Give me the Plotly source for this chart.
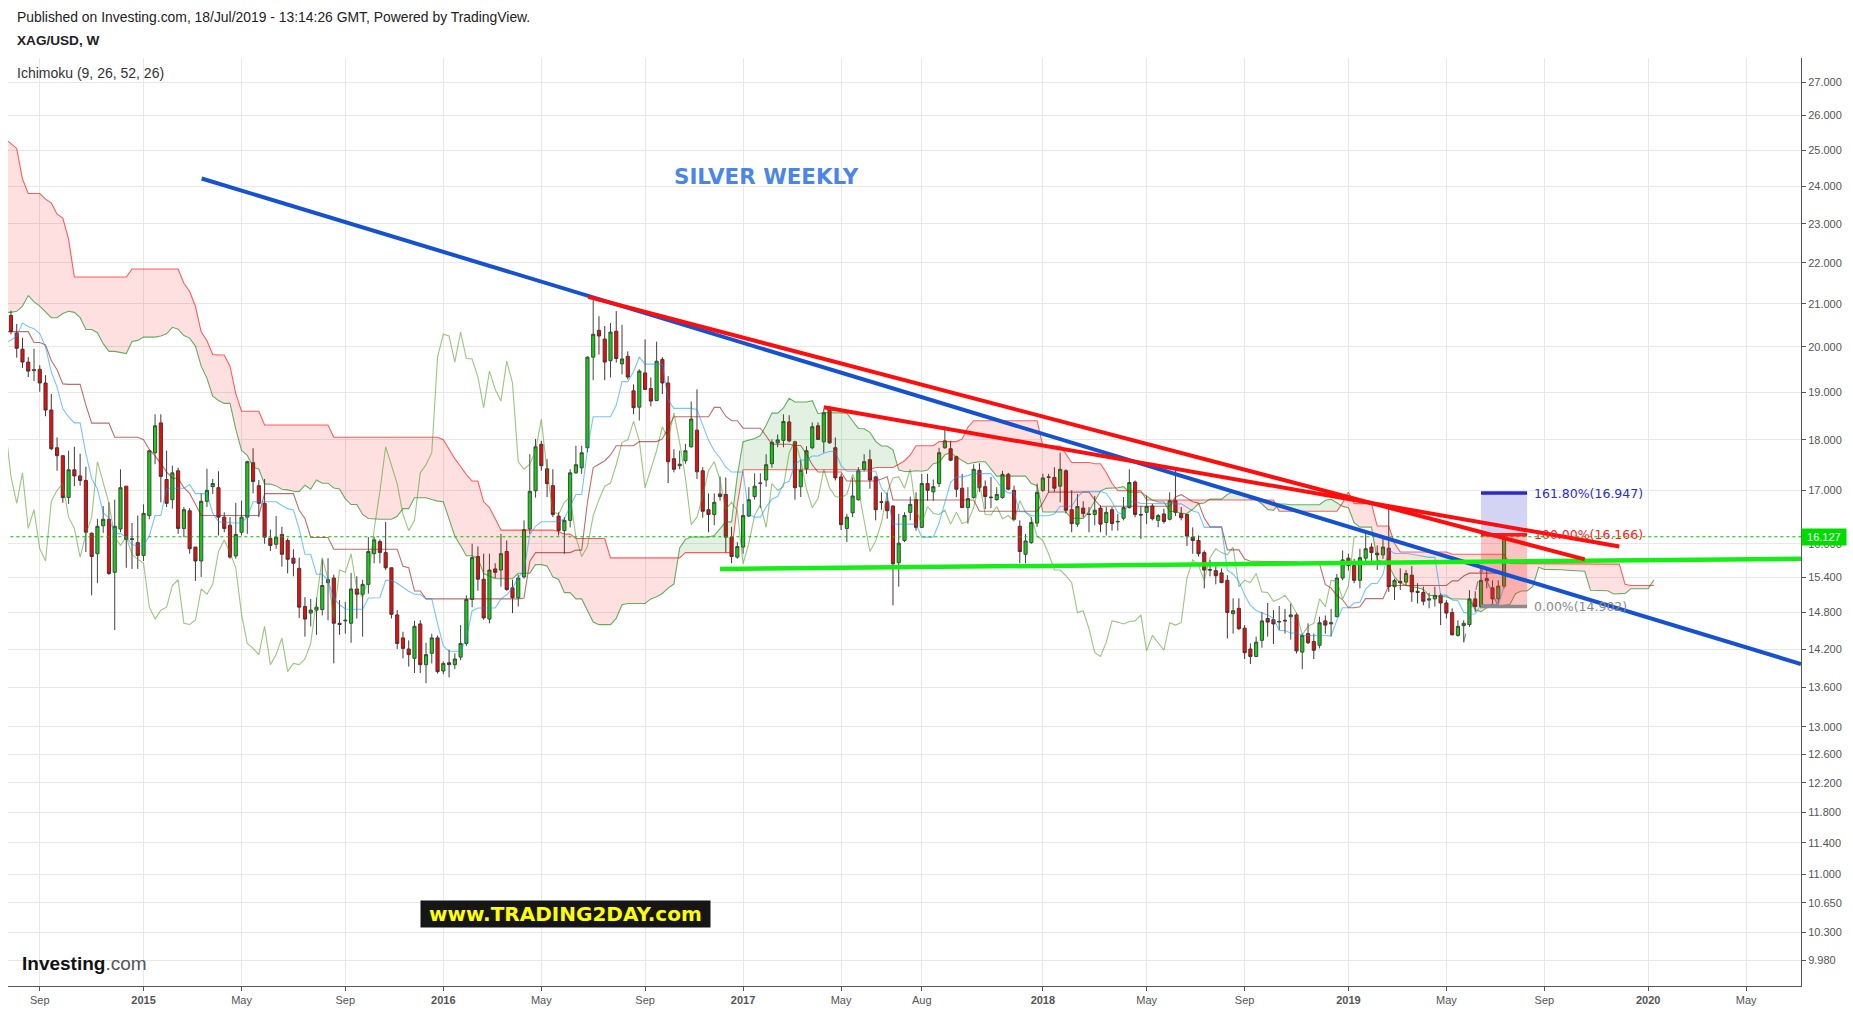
import numpy as np
import pandas as pd
import plotly.graph_objects as go

# ---------------- data (weekly XAG/USD, bars dated on Mondays) ----------------
first_bar = "2014-07-28"

open_ = [
20.73, 20.32, 19.95, 19.66, 19.47, 19.50, 19.20, 18.62, 17.84, 17.68,
16.86, 17.40, 17.28, 17.19, 16.19, 15.82, 16.33, 16.45, 15.49, 16.27,
17.08, 16.09, 16.02, 15.79, 16.52, 17.74, 18.35, 17.21, 16.82, 17.38,
16.28, 16.61, 15.94, 15.69, 16.79, 17.07, 17.05, 16.49, 16.34, 15.78,
16.21, 16.49, 17.54, 17.09, 16.75, 16.10, 15.99, 16.17, 16.06, 15.74,
15.56, 14.90, 14.79, 14.84, 14.85, 15.31, 15.39, 14.62, 14.66, 14.62,
15.20, 15.11, 15.28, 15.82, 16.04, 15.84, 15.57, 14.76, 14.38, 14.20,
14.05, 14.61, 13.95, 14.13, 14.38, 13.85, 13.98, 13.95, 14.07, 14.29,
15.02, 15.77, 15.37, 14.69, 15.55, 15.53, 15.86, 15.22, 15.05, 15.41,
16.27, 16.99, 17.91, 17.42, 17.09, 16.51, 16.24, 16.43, 17.34, 17.44,
17.84, 19.77, 20.38, 20.18, 19.69, 20.36, 19.62, 19.79, 19.03, 18.68,
19.42, 19.08, 18.82, 19.72, 19.20, 17.62, 17.48, 17.58, 17.86, 18.20,
17.38, 16.63, 16.54, 16.93, 16.92, 16.12, 15.76, 15.94, 16.51, 16.88,
17.13, 17.20, 17.52, 17.94, 17.99, 18.37, 17.96, 17.07, 17.42, 17.84,
18.29, 17.96, 18.67, 17.84, 17.26, 16.28, 16.57, 16.82, 17.41, 17.60,
17.26, 16.78, 16.78, 16.70, 15.66, 16.06, 16.58, 16.82, 16.30, 17.13,
16.97, 17.13, 17.84, 17.82, 17.66, 17.04, 16.67, 16.86, 17.39, 17.07,
16.87, 16.82, 16.86, 17.31, 17.00, 16.32, 15.81, 16.02, 16.38, 17.00,
17.25, 17.25, 17.08, 17.38, 16.63, 16.36, 16.66, 16.55, 16.54, 16.66,
16.39, 16.63, 16.40, 16.47, 16.67, 17.16, 16.54, 16.58, 16.70, 16.43,
16.55, 16.45, 16.80, 16.56, 16.54, 16.12, 16.06, 15.84, 15.54, 15.52,
15.48, 15.35, 14.78, 14.87, 14.54, 14.20, 14.08, 14.34, 14.70, 14.68,
14.64, 14.67, 14.73, 14.76, 14.15, 14.45, 14.32, 14.26, 14.66, 14.61,
14.73, 15.39, 15.74, 15.61, 15.35, 15.74, 15.94, 15.83, 15.80, 15.92,
15.24, 15.33, 15.32, 15.44, 15.16, 15.14, 15.01, 15.03, 15.09, 14.96,
14.80, 14.42, 14.58, 14.60, 15.03, 14.90, 15.38, 15.22, 15.03, 15.25,
]

high_ = [
20.84, 20.53, 20.21, 19.77, 19.96, 19.59, 19.37, 18.96, 18.05, 17.68,
17.78, 17.86, 17.72, 17.46, 16.21, 16.46, 16.70, 16.77, 16.82, 17.41,
17.08, 16.38, 16.52, 16.73, 17.78, 18.53, 18.53, 17.78, 17.48, 17.44,
16.68, 16.66, 15.94, 16.94, 17.42, 17.22, 17.37, 16.58, 16.49, 16.76,
16.80, 17.58, 17.83, 17.20, 17.22, 16.26, 16.51, 16.31, 16.10, 15.90,
15.75, 15.06, 15.03, 15.05, 15.72, 15.74, 15.45, 15.01, 14.98, 15.48,
15.42, 15.36, 16.12, 16.13, 16.08, 16.40, 15.57, 14.84, 14.48, 14.34,
14.66, 14.67, 14.30, 14.45, 14.42, 14.00, 14.19, 14.13, 14.59, 15.09,
16.00, 15.95, 15.82, 15.82, 15.65, 16.18, 16.06, 15.36, 15.45, 16.43,
17.71, 18.02, 17.98, 17.61, 17.41, 16.58, 16.49, 17.41, 17.88, 17.88,
19.79, 21.14, 20.71, 20.48, 20.55, 20.83, 20.51, 19.90, 19.17, 19.50,
20.17, 19.32, 20.12, 19.77, 19.35, 17.81, 17.78, 17.92, 18.80, 19.06,
17.45, 16.94, 16.94, 17.27, 17.25, 16.31, 16.03, 16.74, 17.06, 17.33,
17.33, 17.71, 18.01, 18.11, 18.53, 18.51, 17.98, 17.59, 17.87, 18.36,
18.36, 18.64, 18.71, 18.05, 17.32, 16.55, 17.25, 17.45, 17.71, 17.80,
17.28, 16.96, 16.95, 16.71, 16.55, 16.58, 16.88, 16.96, 17.32, 17.32,
17.21, 17.84, 18.28, 17.98, 17.68, 17.32, 17.06, 17.51, 17.53, 17.19,
17.26, 17.06, 17.38, 17.34, 17.09, 16.43, 16.18, 16.49, 17.13, 17.32,
17.32, 17.45, 17.74, 17.41, 17.00, 16.93, 16.79, 16.68, 16.89, 16.71,
16.68, 16.68, 16.55, 16.87, 17.41, 17.19, 16.70, 16.90, 16.74, 16.55,
16.65, 16.96, 17.39, 16.68, 16.55, 16.30, 16.15, 15.88, 15.71, 15.62,
15.56, 15.44, 15.04, 15.04, 14.59, 14.29, 14.40, 14.81, 14.96, 14.84,
14.91, 14.86, 14.95, 14.79, 14.45, 14.62, 14.45, 14.73, 14.75, 14.86,
15.46, 15.88, 15.82, 15.73, 15.91, 16.19, 16.01, 15.97, 16.12, 16.64,
15.38, 15.56, 15.53, 15.60, 15.30, 15.24, 15.13, 15.24, 15.13, 15.01,
14.87, 14.67, 14.67, 15.18, 15.16, 15.56, 15.56, 15.35, 15.35, 16.18,
]

low_ = [
20.29, 19.76, 19.53, 19.33, 19.24, 19.01, 18.49, 17.79, 17.38, 16.76,
16.74, 17.08, 17.09, 15.85, 15.09, 15.30, 16.20, 15.44, 14.51, 16.21,
15.57, 15.55, 15.55, 15.69, 16.45, 17.51, 16.77, 16.68, 16.65, 16.18,
16.12, 15.82, 15.34, 15.41, 16.68, 16.93, 16.15, 16.21, 15.73, 15.73,
16.15, 16.18, 16.94, 16.49, 16.00, 15.87, 15.91, 15.59, 15.47, 15.42,
14.71, 14.40, 14.57, 14.43, 14.75, 14.67, 13.97, 14.43, 14.45, 14.30,
14.70, 14.40, 15.12, 15.65, 15.65, 15.53, 14.70, 14.20, 14.05, 13.92,
13.82, 13.82, 13.66, 13.97, 13.81, 13.80, 13.75, 13.88, 14.02, 14.25,
14.89, 15.17, 14.68, 14.62, 15.39, 15.24, 15.17, 14.79, 14.90, 15.38,
16.18, 16.86, 17.38, 16.87, 16.49, 16.15, 15.82, 16.30, 17.32, 17.32,
17.75, 19.26, 19.83, 19.26, 19.32, 19.65, 19.39, 19.28, 18.53, 18.40,
19.06, 18.70, 18.81, 18.96, 17.14, 17.35, 17.41, 17.52, 17.84, 17.22,
16.48, 16.21, 16.34, 16.80, 15.84, 15.65, 15.73, 15.82, 16.49, 16.82,
16.66, 17.07, 17.44, 17.85, 17.85, 17.95, 16.82, 16.87, 17.32, 17.81,
18.00, 17.74, 17.92, 17.19, 16.25, 16.03, 16.49, 16.80, 17.37, 17.03,
16.43, 16.63, 16.46, 14.92, 15.24, 16.03, 16.43, 16.24, 16.29, 16.80,
16.80, 17.06, 17.82, 17.57, 16.87, 16.66, 16.37, 16.84, 16.97, 16.64,
16.66, 16.80, 16.84, 17.00, 16.43, 15.65, 15.65, 16.00, 16.31, 16.97,
16.96, 16.97, 16.77, 16.56, 16.21, 16.31, 16.49, 16.21, 16.34, 16.21,
16.15, 16.24, 16.24, 16.43, 16.65, 16.49, 16.09, 16.36, 16.43, 16.30,
16.37, 16.43, 16.51, 16.43, 15.96, 15.82, 15.77, 15.21, 15.42, 15.28,
15.30, 14.37, 14.45, 14.51, 14.04, 13.96, 14.07, 14.22, 14.40, 14.28,
14.51, 14.45, 14.35, 14.13, 13.88, 14.28, 14.04, 14.21, 14.45, 14.40,
14.72, 15.35, 15.52, 15.30, 15.21, 15.67, 15.65, 15.53, 15.73, 15.15,
15.01, 15.18, 15.26, 14.98, 14.95, 14.92, 14.87, 14.90, 14.59, 14.70,
14.42, 14.40, 14.31, 14.56, 14.81, 14.87, 15.21, 14.95, 14.95, 15.21,
]

close_ = [
20.35, 19.97, 19.66, 19.46, 19.49, 19.20, 18.62, 17.82, 17.68, 16.86,
17.40, 17.28, 17.19, 16.21, 15.77, 16.32, 16.45, 15.47, 16.32, 17.05,
16.08, 16.08, 15.79, 16.56, 17.78, 18.29, 17.27, 16.75, 17.34, 16.28,
16.63, 15.91, 15.69, 16.79, 17.00, 17.13, 16.49, 16.28, 15.76, 16.17,
16.49, 17.56, 17.17, 16.75, 16.12, 15.97, 16.12, 15.81, 15.72, 15.65,
14.89, 14.69, 14.84, 14.89, 15.26, 15.36, 14.62, 14.60, 14.67, 15.20,
15.11, 15.28, 15.86, 16.07, 15.84, 15.57, 14.77, 14.29, 14.21, 14.11,
14.57, 13.95, 14.11, 14.38, 13.84, 13.97, 13.95, 14.04, 14.29, 15.02,
15.75, 15.37, 14.71, 15.53, 15.49, 15.82, 15.19, 15.05, 15.39, 16.26,
16.98, 17.86, 17.48, 17.13, 16.54, 16.24, 16.43, 17.34, 17.50, 17.74,
19.77, 20.29, 20.25, 19.66, 20.34, 19.74, 19.73, 19.33, 18.67, 19.46,
19.06, 18.81, 19.68, 19.20, 17.56, 17.41, 17.51, 17.78, 18.43, 17.36,
16.60, 16.54, 16.77, 16.88, 16.12, 15.77, 15.95, 16.52, 16.82, 17.08,
17.14, 17.50, 17.95, 18.00, 18.38, 17.98, 17.05, 17.39, 17.78, 18.27,
18.01, 18.56, 17.94, 17.24, 16.35, 16.49, 16.89, 17.38, 17.56, 17.20,
16.63, 16.77, 16.61, 15.64, 16.01, 16.52, 16.73, 16.30, 17.13, 17.00,
17.07, 17.74, 17.98, 17.59, 17.02, 16.67, 16.84, 17.41, 17.05, 16.88,
16.86, 16.92, 17.31, 17.02, 16.45, 15.86, 16.05, 16.39, 16.96, 17.24,
17.26, 17.04, 17.41, 16.62, 16.37, 16.69, 16.56, 16.54, 16.62, 16.36,
16.58, 16.37, 16.41, 16.67, 17.15, 16.54, 16.53, 16.69, 16.46, 16.52,
16.41, 16.80, 16.58, 16.48, 16.14, 16.06, 15.82, 15.53, 15.53, 15.43,
15.31, 14.80, 14.83, 14.53, 14.14, 14.08, 14.31, 14.66, 14.64, 14.61,
14.65, 14.66, 14.76, 14.17, 14.42, 14.30, 14.18, 14.63, 14.59, 14.63,
15.39, 15.71, 15.61, 15.35, 15.75, 15.91, 15.84, 15.80, 15.94, 15.24,
15.35, 15.31, 15.47, 15.15, 15.14, 14.99, 15.03, 15.09, 14.96, 14.79,
14.43, 14.57, 14.62, 15.03, 14.90, 15.35, 15.34, 15.03, 15.25, 16.13,
]

# weekly highs / lows of the 78 weeks before the first visible bar (Ichimoku look-back)
pre_high = [
32.45, 32.20, 31.90, 30.20, 29.30, 29.00, 29.40, 29.10, 28.90, 28.30,
28.10, 27.00, 24.00, 24.40, 24.30, 23.70, 22.90, 22.70, 22.80, 22.20,
21.90, 20.10, 19.90, 19.60, 20.30, 20.40, 20.00, 20.20, 23.20, 24.50,
25.10, 24.40, 24.00, 23.40, 22.50, 22.40, 22.50, 22.30, 22.90, 22.40,
22.00, 21.90, 21.20, 20.40, 20.20, 20.20, 20.10, 19.90, 20.00, 20.40,
20.50, 20.40, 20.10, 20.20, 21.00, 22.00, 22.10, 21.60, 21.60, 21.30,
20.30, 20.20, 20.30, 20.20, 19.90, 19.90, 19.60, 19.80, 19.50, 19.50,
19.20, 19.80, 20.10, 21.20, 21.30, 21.60, 21.50, 21.10,
]
pre_low = [
31.10, 31.30, 29.90, 28.10, 28.00, 28.00, 28.50, 28.20, 27.90, 26.70,
27.10, 22.00, 22.60, 23.00, 23.30, 22.00, 21.60, 21.90, 21.80, 21.40,
19.60, 18.20, 18.60, 18.70, 19.20, 19.40, 19.00, 19.40, 19.90, 23.00,
23.20, 22.90, 21.90, 21.20, 21.30, 21.00, 21.30, 20.90, 21.70, 21.40,
21.20, 21.00, 19.90, 19.60, 18.80, 19.50, 19.00, 19.30, 19.40, 19.60,
19.80, 19.50, 18.90, 19.30, 19.90, 21.00, 21.00, 20.90, 20.90, 20.00,
19.50, 19.60, 19.60, 19.40, 19.40, 19.10, 19.10, 19.10, 19.20, 18.60,
18.70, 18.90, 19.50, 20.10, 20.70, 20.80, 20.80, 20.40,
]

ichimoku_params = [9, 26, 52, 26]

y_tick_values = [9.98, 10.3, 10.65, 11.0, 11.4, 11.8, 12.2, 12.6, 13.0, 13.6, 14.2,
                 14.8, 15.4, 16.0, 17.0, 18.0, 19.0, 20.0, 21.0, 22.0, 23.0, 24.0,
                 25.0, 26.0, 27.0]
x_tick_dates = ["2014-09-01", "2015-01-05", "2015-05-04", "2015-09-07", "2016-01-04",
                "2016-05-02", "2016-09-05", "2017-01-02", "2017-05-01", "2017-08-07",
                "2018-01-01", "2018-05-07", "2018-09-03", "2019-01-07", "2019-05-06",
                "2019-09-02", "2020-01-06", "2020-05-04"]
x_tick_labels = ["Sep", "2015", "May", "Sep", "2016", "May", "Sep", "2017", "May", "Aug",
                 "2018", "May", "Sep", "2019", "May", "Sep", "2020", "May"]

# drawings (trend lines)
blue_line_dates = ["2015-03-16 14:00", "2020-07-09 14:00"]
blue_line_prices = [24.21, 13.96]
red_long_dates = ["2016-06-28", "2019-10-21"]
red_long_prices = [21.17, 15.72]
red_short_dates = ["2017-04-10", "2019-12-02"]
red_short_prices = [18.68, 15.95]
green_line_dates = ["2016-12-05", "2020-07-09 14:00"]
green_line_prices = [15.55, 15.73]

# trend-based fib extension
fib_dates = ["2019-06-17", "2019-08-12"]
fib_levels = [14.902, 16.166, 16.947]
fib_texts = ["0.00%(14.902)", "100.00%(16.166)", "161.80%(16.947)"]
fib_pivot_dates = ["2019-05-27", "2019-06-17", "2019-07-08"]
fib_pivot_prices = [14.306, 15.57, 14.902]

last_price = 16.127

# ---------------- computations ----------------
t0 = pd.Timestamp(first_bar)
N = len(close_)
def bar_date(p):
    return t0 + pd.Timedelta(weeks=p)

bar_dates = [bar_date(k) for k in range(N)]

TEN, KIJ, SPB, DISP = ichimoku_params
H_all = pre_high + high_
L_all = pre_low + low_
NP = len(pre_high)

def mid(period, g):
    return (max(H_all[g - period + 1:g + 1]) + min(L_all[g - period + 1:g + 1])) / 2.0

tk_bars = list(range(-1, N))
tenkan = [mid(TEN, NP + j) for j in tk_bars]
kijun = [mid(KIJ, NP + j) for j in tk_bars]

span_bars = list(range(-1, N + DISP))
spanA = [(mid(TEN, NP + p - DISP) + mid(KIJ, NP + p - DISP)) / 2.0 for p in span_bars]
spanB = [mid(SPB, NP + p - DISP) for p in span_bars]

chikou_bars = list(range(DISP - 1, N))
chikou_x = [bar_date(j - DISP) for j in chikou_bars]
chikou_y = [close_[j] for j in chikou_bars]

# cloud polygons (split where span A and span B cross)
xn = np.array(span_bars, dtype=float)
la = np.log(np.array(spanA))
lb = np.log(np.array(spanB))
polys = []
s0 = 1 if la[0] >= lb[0] else -1
pa = [(xn[0], la[0])]
pb = [(xn[0], lb[0])]
for i in range(1, len(xn)):
    d1 = la[i] - lb[i]
    s = 1 if d1 > 0 else (-1 if d1 < 0 else s0)
    if s != s0:
        d0 = la[i - 1] - lb[i - 1]
        t = d0 / (d0 - d1)
        xc = xn[i - 1] + t * (xn[i] - xn[i - 1])
        yc = la[i - 1] + t * (la[i] - la[i - 1])
        pa.append((xc, yc)); pb.append((xc, yc))
        polys.append((s0, pa, pb))
        pa = [(xc, yc)]; pb = [(xc, yc)]
        s0 = s
    pa.append((xn[i], la[i])); pb.append((xn[i], lb[i]))
polys.append((s0, pa, pb))

def wk_to_date(w):
    return t0 + pd.Timedelta(days=7.0 * w)

fig = go.Figure()

for s, pa_, pb_ in polys:
    pts = pa_ + pb_[::-1]
    fig.add_trace(go.Scatter(
        x=[wk_to_date(p[0]) for p in pts], y=[float(np.exp(p[1])) for p in pts],
        mode="lines", fill="toself", line=dict(width=0),
        fillcolor="rgba(0,128,0,0.11)" if s > 0 else "rgba(255,0,0,0.12)",
        hoverinfo="skip", showlegend=False))

span_x = [bar_date(p) for p in span_bars]
fig.add_trace(go.Scatter(x=span_x, y=spanA, mode="lines",
                         line=dict(color="rgba(0,128,0,0.6)", width=1.1),
                         hoverinfo="skip", showlegend=False))
fig.add_trace(go.Scatter(x=span_x, y=spanB, mode="lines",
                         line=dict(color="rgba(255,0,0,0.62)", width=1.1),
                         hoverinfo="skip", showlegend=False))
fig.add_trace(go.Scatter(x=chikou_x, y=chikou_y, mode="lines",
                         line=dict(color="rgba(69,153,21,0.55)", width=1.1),
                         hoverinfo="skip", showlegend=False))
tk_x = [bar_date(p) for p in tk_bars]
fig.add_trace(go.Scatter(x=tk_x, y=kijun, mode="lines",
                         line=dict(color="rgba(153,21,21,0.62)", width=1.1),
                         hoverinfo="skip", showlegend=False))
fig.add_trace(go.Scatter(x=tk_x, y=tenkan, mode="lines",
                         line=dict(color="rgba(4,150,255,0.55)", width=1.1),
                         hoverinfo="skip", showlegend=False))

# fib extension boxes
fig.add_trace(go.Scatter(
    x=[fib_dates[0], fib_dates[1], fib_dates[1], fib_dates[0], fib_dates[0]],
    y=[fib_levels[1], fib_levels[1], fib_levels[2], fib_levels[2], fib_levels[1]],
    mode="lines", fill="toself", fillcolor="rgba(70,70,210,0.24)", line=dict(width=0),
    hoverinfo="skip", showlegend=False))
fig.add_trace(go.Scatter(
    x=[fib_dates[0], fib_dates[1], fib_dates[1], fib_dates[0], fib_dates[0]],
    y=[fib_levels[0], fib_levels[0], fib_levels[1], fib_levels[1], fib_levels[0]],
    mode="lines", fill="toself", fillcolor="rgba(240,60,60,0.3)", line=dict(width=0),
    hoverinfo="skip", showlegend=False))
fig.add_trace(go.Scatter(x=fib_pivot_dates, y=fib_pivot_prices, mode="lines",
                         line=dict(color="rgba(110,110,110,0.8)", width=1.3, dash="dash"),
                         hoverinfo="skip", showlegend=False))

# last price line
fig.add_trace(go.Scatter(x=["2014-07-20", "2020-07-15"], y=[last_price, last_price],
                         mode="lines", line=dict(color="#00b800", width=1, dash="dot"),
                         hoverinfo="skip", showlegend=False))

# candles
fig.add_trace(go.Candlestick(
    x=bar_dates, open=open_, high=high_, low=low_, close=close_,
    increasing=dict(fillcolor="#12d012", line=dict(color="#3a4a3a", width=1)),
    decreasing=dict(fillcolor="#f40808", line=dict(color="#4a3434", width=1)),
    whiskerwidth=0, hoverinfo="skip", showlegend=False))

# fib level lines
fib_line_colors = ["#8a8a8a", "#ff1a1a", "#2a2ac8"]
for lv, col in zip(fib_levels, fib_line_colors):
    fig.add_trace(go.Scatter(x=fib_dates, y=[lv, lv], mode="lines",
                             line=dict(color=col, width=3.5),
                             hoverinfo="skip", showlegend=False))

# trend lines
fig.add_trace(go.Scatter(x=blue_line_dates, y=blue_line_prices, mode="lines",
                         line=dict(color="#1452d2", width=4), hoverinfo="skip", showlegend=False))
fig.add_trace(go.Scatter(x=green_line_dates, y=green_line_prices, mode="lines",
                         line=dict(color="#14f014", width=4.5), hoverinfo="skip", showlegend=False))
fig.add_trace(go.Scatter(x=red_long_dates, y=red_long_prices, mode="lines",
                         line=dict(color="#ff0c0c", width=4), hoverinfo="skip", showlegend=False))
fig.add_trace(go.Scatter(x=red_short_dates, y=red_short_prices, mode="lines",
                         line=dict(color="#ff0c0c", width=4), hoverinfo="skip", showlegend=False))

# ---------------- layout ----------------
L, R, T, B = 8, 52, 58, 23
W, H = 1853, 1014
pw, ph = W - L - R, H - T - B

def px(xp):
    return (xp - L) / pw

def py(yp):
    return (H - B - yp) / ph

annotations = []
annotations.append(dict(xref="paper", yref="paper", x=px(15), y=py(17), xanchor="left",
                        yanchor="middle", showarrow=False,
                        text="Published on Investing.com, 18/Jul/2019 - 13:14:26 GMT, Powered by TradingView.",
                        font=dict(family="Liberation Sans, Arial", size=13.9, color="#222")))
annotations.append(dict(xref="paper", yref="paper", x=px(15), y=py(40), xanchor="left",
                        yanchor="middle", showarrow=False, text="<b>XAG/USD, W</b>",
                        font=dict(family="Liberation Sans, Arial", size=13.6, color="#222")))
annotations.append(dict(xref="paper", yref="paper", x=px(15), y=py(73), xanchor="left",
                        yanchor="middle", showarrow=False,
                        text="Ichimoku (%d, %d, %d, %d)" % tuple(ichimoku_params),
                        font=dict(family="Liberation Sans, Arial", size=14, color="#333")))
annotations.append(dict(xref="paper", yref="paper", x=px(766), y=py(177), xanchor="center",
                        yanchor="middle", showarrow=False, text="<b>SILVER WEEKLY</b>",
                        font=dict(family="DejaVu Sans", size=21.4, color="#4a86e8")))
annotations.append(dict(xref="paper", yref="paper", x=px(565), y=py(919), xanchor="center",
                        yanchor="middle", showarrow=False,
                        text="<b>\u00a0www.TRADING2DAY.com\u00a0</b>", bgcolor="#161616",
                        borderpad=1,
                        font=dict(family="DejaVu Sans", size=20, color="#ffff00")))
annotations.append(dict(xref="paper", yref="paper", x=px(20), y=py(968), xanchor="left",
                        yanchor="middle", showarrow=False,
                        text="<b>Investing</b><span style='color:#555'>.com</span>",
                        font=dict(family="Liberation Sans Narrow, Liberation Sans, Arial",
                                  size=19, color="#111")))
# fib labels
fib_label_colors = ["#8a8a8a", "#ff2020", "#2a2ad6"]
for lv, txt, col in zip(fib_levels, fib_texts, fib_label_colors):
    annotations.append(dict(xref="x", yref="y", x=fib_dates[1], y=float(np.log10(lv)),
                            xanchor="left", yanchor="middle", xshift=5, showarrow=False,
                            text=txt, font=dict(family="DejaVu Sans", size=12.5, color=col)))
# last price tag (drawn over the 16.000 axis label, as in the original)
annotations.append(dict(xref="paper", yref="y", x=1.0, y=float(np.log10(last_price)),
                        xanchor="left", yanchor="middle", showarrow=False,
                        text="\u00a0%.3f\u00a0" % last_price, bgcolor="#00dc00", borderpad=2,
                        font=dict(family="Liberation Sans, Arial", size=11, color="#ffffff")))

x_ticktext = ["<b>%s</b>" % t if t.isdigit() else t for t in x_tick_labels]

fig.update_layout(
    width=W, height=H, autosize=False,
    margin=dict(l=L, r=R, t=T, b=B),
    paper_bgcolor="white", plot_bgcolor="white",
    showlegend=False,
    annotations=annotations,
    xaxis=dict(type="date", range=["2014-07-24 10:00", "2020-07-09 14:00"],
               tickmode="array", tickvals=x_tick_dates, ticktext=x_ticktext,
               showgrid=True, gridcolor="#e8e8e8", gridwidth=1,
               showline=True, linecolor="#555", linewidth=1,
               ticks="outside", ticklen=4, tickcolor="#555",
               tickfont=dict(family="Liberation Sans, Arial", size=11, color="#555"),
               rangeslider=dict(visible=False), zeroline=False, fixedrange=True),
    yaxis=dict(type="log", side="right",
               range=[float(np.log10(9.690)), float(np.log10(27.755))],
               tickmode="array", tickvals=y_tick_values,
               ticktext=["%.3f" % v for v in y_tick_values],
               showgrid=True, gridcolor="#e8e8e8", gridwidth=1,
               showline=True, linecolor="#555", linewidth=1,
               ticks="outside", ticklen=4, tickcolor="#555",
               tickfont=dict(family="Liberation Sans, Arial", size=11, color="#555"),
               zeroline=False, fixedrange=True),
    boxgap=0.22,
)

fig.write_html("out.html", config={"displayModeBar": False})
